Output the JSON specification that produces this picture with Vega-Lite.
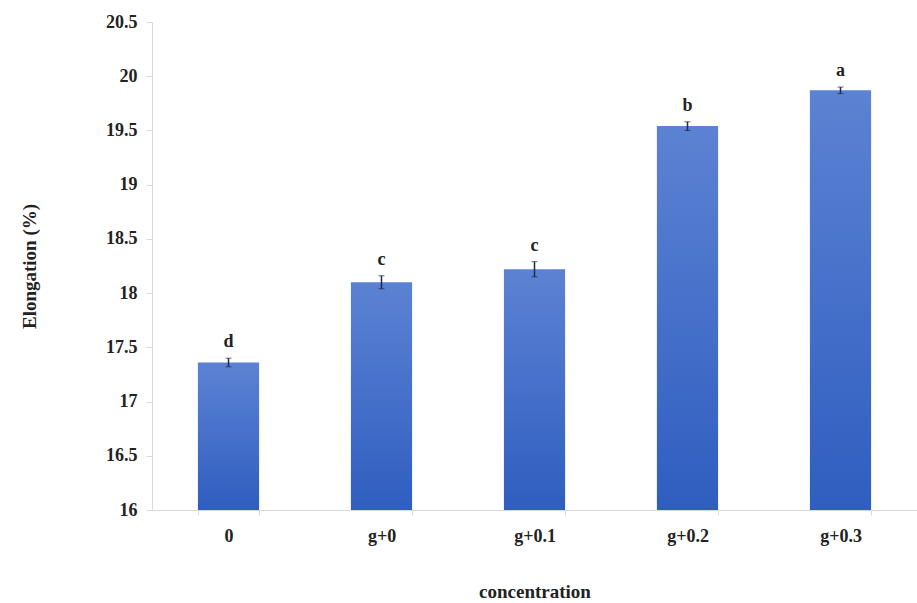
{
  "$schema": "https://vega.github.io/schema/vega-lite/v6.json",
  "width": 765,
  "height": 488,
  "autosize": {"type": "none"},
  "padding": {"left": 152, "top": 22, "right": 0, "bottom": 93},
  "background": "white",
  "config": {
    "view": {"stroke": null},
    "font": "Times New Roman, Liberation Serif, serif",
    "axis": {
      "labelFont": "Times New Roman, Liberation Serif, serif",
      "titleFont": "Times New Roman, Liberation Serif, serif",
      "labelFontWeight": "bold",
      "titleFontWeight": "bold",
      "labelColor": "#222222",
      "titleColor": "#222222",
      "domainColor": "#d9d9d9",
      "tickColor": "#d9d9d9",
      "grid": false
    }
  },
  "data": {
    "values": [
      {"concentration": "0", "mean": 17.36, "err": 0.04, "letter": "d"},
      {"concentration": "g+0", "mean": 18.10, "err": 0.06, "letter": "c"},
      {"concentration": "g+0.1", "mean": 18.22, "err": 0.07, "letter": "c"},
      {"concentration": "g+0.2", "mean": 19.54, "err": 0.04, "letter": "b"},
      {"concentration": "g+0.3", "mean": 19.87, "err": 0.03, "letter": "a"}
    ]
  },
  "encoding": {
    "x": {
      "field": "concentration",
      "type": "nominal",
      "sort": null,
      "scale": {"paddingInner": 0.6, "paddingOuter": 0.3},
      "axis": {
        "title": "concentration",
        "labelAngle": 0,
        "labelFontSize": 18,
        "labelPadding": 12,
        "titleFontSize": 19,
        "titlePadding": 37,
        "tickSize": 5,
        "tickBand": "extent"
      }
    }
  },
  "layer": [
    {
      "mark": {
        "type": "bar",
        "color": {
          "gradient": "linear",
          "x1": 0, "y1": 0, "x2": 0, "y2": 1,
          "stops": [
            {"offset": 0, "color": "#5c82d3"},
            {"offset": 1, "color": "#2f5ec0"}
          ]
        }
      },
      "encoding": {
        "y": {
          "field": "mean",
          "type": "quantitative",
          "title": "Elongation (%)",
          "scale": {"domain": [16, 20.5], "zero": false, "nice": false},
          "axis": {
            "values": [16, 16.5, 17, 17.5, 18, 18.5, 19, 19.5, 20, 20.5],
            "format": ".1~f",
            "labelFontSize": 18,
            "labelPadding": 9,
            "tickSize": 6,
            "titleFontSize": 19,
            "titleX": -113
          }
        },
        "y2": {"datum": 16}
      }
    },
    {
      "transform": [
        {"calculate": "datum.mean - datum.err", "as": "lo"},
        {"calculate": "datum.mean + datum.err", "as": "hi"}
      ],
      "mark": {"type": "errorbar", "ticks": {"size": 6, "color": "#1a2a4a"}, "rule": {"color": "#1a2a4a", "strokeWidth": 1.5}},
      "encoding": {
        "y": {"field": "lo", "type": "quantitative", "title": "Elongation (%)"},
        "y2": {"field": "hi"}
      }
    },
    {
      "transform": [{"calculate": "datum.mean + datum.err", "as": "hi"}],
      "mark": {"type": "text", "dy": -7, "fontSize": 18, "fontWeight": "bold", "font": "Times New Roman, Liberation Serif, serif", "color": "#222222", "baseline": "bottom"},
      "encoding": {
        "y": {"field": "hi", "type": "quantitative", "title": "Elongation (%)"},
        "text": {"field": "letter"}
      }
    }
  ]
}
